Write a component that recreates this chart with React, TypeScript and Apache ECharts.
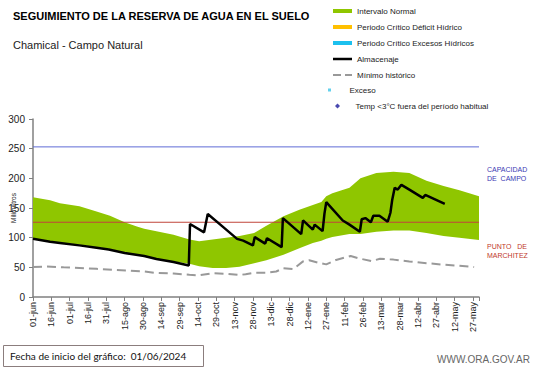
import React, { useEffect, useRef } from 'react';
import * as echarts from 'echarts';

// X axis: days since 01-jun-2024, one tick every 15 days
const tickLabels = [
  '01-jun', '16-jun', '01-jul', '16-jul', '31-jul', '15-ago', '30-ago', '14-sep', '29-sep',
  '14-oct', '29-oct', '13-nov', '28-nov', '13-dic', '28-dic', '12-ene', '27-ene', '11-feb',
  '26-feb', '13-mar', '28-mar', '12-abr', '27-abr', '12-may', '27-may',
];
const axisDays = [0, 365];

// Intervalo normal (band)
const bandDays = [0, 14, 22, 38, 52, 63, 75, 85, 91, 101, 115, 128, 136, 147, 158, 169, 181, 191, 205, 218, 229, 236, 240, 245, 259, 268, 281, 295, 308, 322, 336, 349, 365];
const bandUpper = [168, 163, 158, 153, 144, 137, 126, 119, 115, 111, 105, 97, 94, 97, 100, 103, 108, 120, 136, 147, 155, 160, 170, 175, 184, 200, 209, 211, 209, 196, 187, 180, 170];
const bandLower = [99, 94, 92, 88, 84, 81, 75, 71, 69, 65, 60, 56, 52, 49, 49, 51, 57, 62, 71, 82, 91, 95, 98, 101, 106, 106, 110, 112, 112, 108, 103, 100, 96];

// Almacenaje
const storageDays = [0, 14, 22, 38, 52, 62, 75, 91, 101, 115, 127.5, 128.5, 140, 143, 155, 167, 172, 180, 181.5, 190, 191.5, 203.5, 204.5, 219.5, 221, 229, 230.5, 237, 238.5, 240, 253.5, 259, 267.5, 269, 272, 276.5, 278.5, 283.5, 290.3, 292.5, 294, 296, 298.5, 301.5, 308, 319, 321, 337];
const storageValues = [98, 93, 91, 87, 83, 80, 74, 69, 64, 59, 53, 123, 109, 140, 119, 98, 95, 87, 101, 90, 99, 84, 133, 106, 129, 113.5, 122, 111, 140, 160, 129, 122, 110, 131, 133, 126, 137, 137, 127, 142, 164, 184, 181, 189, 181, 167, 172, 157];

// Mínimo histórico
const minDays = [0, 11, 25, 38, 52, 65, 79, 91, 101, 115, 128, 136, 147, 158, 169, 174, 181, 191, 199, 205, 213, 221, 226, 233, 240, 248, 260, 267, 277, 284, 295, 308, 322, 336, 349, 361];
const minValues = [50.5, 51.5, 50, 49, 47.5, 46, 44.5, 43, 40.5, 39.5, 37.5, 36.5, 40, 39, 37, 38.5, 41, 41, 43, 48.5, 47, 60, 62, 58, 55, 62.5, 69, 65, 60.5, 64.5, 63, 60, 57, 54.5, 52.5, 50.5];

// Reference levels
const fieldCapacity = 253;
const wiltingPoint = 126;

const FONT = '"Liberation Sans", Arial, sans-serif';
const rectIcon = 'path://M0,0h19v4h-19z';
const lineIcon = 'path://M0,0h19v2.5h-19z';
const dashIcon = 'path://M0,0h8v2h-8zM12,0h7v2h-7z';
const dotIcon = 'path://M0,0h3v3h-3z';
const diamondIcon = 'path://M2.5,0L5,2.5L2.5,5L0,2.5Z';

const refLine = (name: string, value: number, color: string, width: number) => ({
  name,
  type: 'line',
  symbol: 'none',
  silent: true,
  color,
  lineStyle: { color, width, type: 'solid' },
  data: axisDays.map((d) => [d, value]),
  z: 3,
});

export default function App() {
  const ref = useRef<HTMLDivElement>(null);

  useEffect(() => {
    if (!ref.current) return;
    const chart = echarts.init(ref.current, undefined, { renderer: 'svg' });

    const legendText = { fontSize: 8, color: '#222', lineHeight: 10, fontFamily: FONT };

    const option: any = {
      animation: false,
      backgroundColor: '#fff',
      textStyle: { fontFamily: FONT },
      title: {
        text: 'SEGUIMIENTO DE LA RESERVA DE AGUA EN EL SUELO',
        subtext: 'Chamical - Campo Natural',
        left: 13,
        top: 10,
        padding: 0,
        itemGap: 18,
        textStyle: { fontSize: 11, fontWeight: 'bold', color: '#000', fontFamily: FONT },
        subtextStyle: { fontSize: 11, color: '#222', fontFamily: FONT },
      },
      legend: [
        {
          orient: 'vertical',
          left: 333,
          top: 6,
          padding: 0,
          itemWidth: 19,
          itemHeight: 8,
          itemGap: 6,
          selectedMode: false,
          itemStyle: { borderWidth: 0 },
          textStyle: legendText,
          data: [
            { name: 'Intervalo Normal', icon: rectIcon },
            { name: 'Periodo Crítico Déficit Hídrico', icon: rectIcon },
            { name: 'Periodo Crítico Excesos Hídricos', icon: rectIcon },
            { name: 'Almacenaje', icon: lineIcon },
            { name: 'Mínimo histórico', icon: dashIcon },
          ],
        },
        {
          orient: 'vertical',
          left: 328,
          top: 85,
          padding: 0,
          itemWidth: 30,
          itemHeight: 3,
          selectedMode: false,
          itemStyle: { borderWidth: 0 },
          textStyle: legendText,
          data: [{ name: 'Exceso', icon: dotIcon }],
        },
        {
          orient: 'vertical',
          left: 335,
          top: 101,
          padding: 0,
          itemWidth: 26,
          itemHeight: 5,
          selectedMode: false,
          itemStyle: { borderWidth: 0 },
          textStyle: legendText,
          data: [{ name: 'Temp <3°C fuera del período habitual', icon: diamondIcon }],
        },
      ],
      grid: { left: 33, right: 62, top: 119, bottom: 71, outerBoundsMode: 'none' },
      xAxis: {
        type: 'value',
        min: 0,
        max: 365,
        interval: 15,
        splitLine: { show: false },
        axisLine: { lineStyle: { color: '#808080', width: 1.5 } },
        axisTick: { length: 4, lineStyle: { color: '#808080' } },
        axisLabel: {
          rotate: 90,
          fontSize: 9,
          color: '#222',
          margin: 5,
          fontFamily: FONT,
          formatter: (v: number) => (v % 15 === 0 && tickLabels[v / 15] ? tickLabels[v / 15] : ''),
        },
      },
      yAxis: {
        type: 'value',
        min: 0,
        max: 300,
        interval: 50,
        name: 'Milímetros',
        nameLocation: 'middle',
        nameGap: 16,
        nameMoveOverlap: false,
        nameTextStyle: { fontSize: 6.5, color: '#222', fontFamily: FONT },
        splitLine: { show: false },
        axisLine: { show: true, lineStyle: { color: '#808080', width: 1.5 } },
        axisTick: { show: true, length: 4, lineStyle: { color: '#808080' } },
        axisLabel: { fontSize: 10, color: '#222', margin: 8, fontFamily: FONT },
      },
      series: [
        {
          name: 'Intervalo Normal',
          type: 'custom',
          itemStyle: { color: '#8fc600' },
          color: '#8fc600',
          data: bandDays.map((d, i) => [d, bandLower[i], bandUpper[i]]),
          encode: { x: 0, y: [1, 2] },
          z: 1,
          renderItem: (params: any, api: any) => {
            if (params.dataIndex !== 0) return null;
            const pts: number[][] = [];
            for (let i = 0; i < bandDays.length; i++) pts.push(api.coord([bandDays[i], bandUpper[i]]));
            for (let i = bandDays.length - 1; i >= 0; i--) pts.push(api.coord([bandDays[i], bandLower[i]]));
            return {
              type: 'polygon',
              shape: { points: pts },
              style: { fill: '#8fc600', stroke: 'none' },
            };
          },
        },
        refLine('Capacidad de campo', fieldCapacity, '#5f6cd6', 1),
        refLine('Punto de marchitez', wiltingPoint, '#c0453a', 1.2),
        { name: 'Periodo Crítico Déficit Hídrico', type: 'line', color: '#ffc000', data: [] },
        { name: 'Periodo Crítico Excesos Hídricos', type: 'line', color: '#1cc0ee', data: [] },
        {
          name: 'Mínimo histórico',
          type: 'line',
          symbol: 'none',
          color: '#999999',
          lineStyle: { color: '#999999', width: 2, type: [9, 5] },
          data: minDays.map((d, i) => [d, minValues[i]]),
          z: 3,
        },
        {
          name: 'Almacenaje',
          type: 'line',
          symbol: 'none',
          color: '#000000',
          lineStyle: { color: '#000000', width: 2.5 },
          data: storageDays.map((d, i) => [d, storageValues[i]]),
          z: 10,
        },
        { name: 'Exceso', type: 'scatter', color: '#3cc6e8', itemStyle: { color: '#3cc6e8' }, data: [] },
        {
          name: 'Temp <3°C fuera del período habitual',
          type: 'scatter',
          symbol: 'diamond',
          color: '#1c1c9c',
          itemStyle: { color: '#1c1c9c' },
          data: [],
        },
      ],
      graphic: [
        {
          type: 'text',
          left: 487,
          top: 165,
          style: {
            text: 'CAPACIDAD\nDE  CAMPO',
            fontSize: 7,
            lineHeight: 9,
            fill: '#3a3ab4',
            fontFamily: FONT,
          },
        },
        {
          type: 'text',
          left: 487,
          top: 242,
          style: {
            text: 'PUNTO   DE\nMARCHITEZ',
            fontSize: 7,
            lineHeight: 9,
            fill: '#c0392b',
            fontFamily: FONT,
          },
        },
        {
          type: 'rect',
          shape: { x: 3.5, y: 345.5, width: 200, height: 21 },
          style: { fill: '#fff', stroke: '#8b7d7d', lineWidth: 1 },
        },
        {
          type: 'text',
          x: 10,
          y: 356,
          style: {
            text: 'Fecha de inicio del gráfico:  01/06/2024',
            fontSize: 10,
            fill: '#111',
            fontFamily: 'Lato, "Liberation Sans", sans-serif',
            verticalAlign: 'middle',
          },
        },
        {
          type: 'text',
          x: 530,
          y: 359,
          style: {
            text: 'WWW.ORA.GOV.AR',
            fontSize: 10,
            fill: '#666',
            fontFamily: FONT,
            align: 'right',
            verticalAlign: 'middle',
          },
        },
      ],
    };

    chart.setOption(option);
    return () => chart.dispose();
  }, []);

  return (
    <div
      ref={ref}
      style={{ position: 'absolute', left: 0, top: 0, width: 541, height: 368 }}
    />
  );
}
